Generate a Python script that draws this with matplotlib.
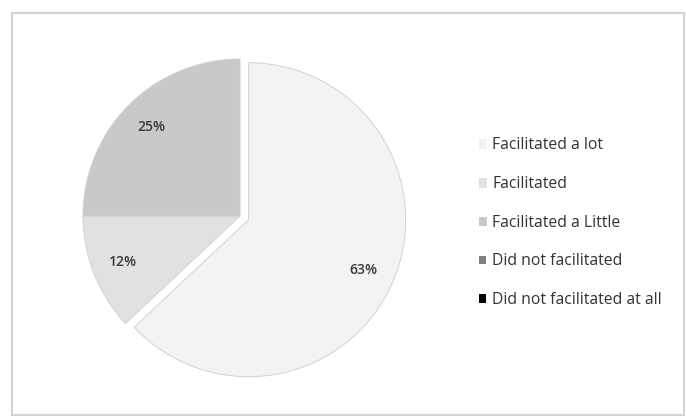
import matplotlib
matplotlib.use("Agg")
import matplotlib.pyplot as plt
from matplotlib.patches import Rectangle

# Response shares per category
categories = ["Facilitated a lot", "Facilitated", "Facilitated a Little",
              "Did not facilitated", "Did not facilitated at all"]
shares = [63, 12, 25, 0, 0]
colors = ["#f3f3f3", "#e1e1e1", "#c9c9c9", "#808080", "#000000"]
explode = [0.06, 0, 0, 0, 0]

plt.rcParams["font.family"] = ["Open Sans", "DejaVu Sans"]

W, H = 686, 416
fig = plt.figure(figsize=(W / 100, H / 100), dpi=100)
fig.patch.set_facecolor("white")

# chart area border
fig.patches.append(Rectangle((12 / W, 1 / H), 672 / W, (H - 14) / H,
                             transform=fig.transFigure, fill=False,
                             edgecolor="#d4d4d4", linewidth=1.6))

# pie centred at (240, 216) px with a 157 px radius
half = 170
ax = fig.add_axes([(240 - half) / W, (H - 216 - half) / H, 2 * half / W, 2 * half / H])


def pct(v):
    return f"{v:.0f}%" if v > 0.5 else ""


wedges, texts, autotexts = ax.pie(
    shares, colors=colors, explode=explode, startangle=90, counterclock=False,
    autopct=pct, pctdistance=0.8,
    wedgeprops=dict(edgecolor="#d2d2d2", linewidth=0.7),
    textprops=dict(fontsize=10, color="#3a3a3a", fontweight="semibold"))
ax.set_xlim(-half / 157, half / 157)
ax.set_ylim(-half / 157, half / 157)
ax.set_aspect("equal")

for w, v in zip(wedges, shares):
    if v == 0:
        w.set_linewidth(0)

leg = fig.legend(wedges, categories, loc="upper left",
                 bbox_to_anchor=(465 / W, (H - 123) / H), frameon=False,
                 fontsize=11.3, handlelength=0.45, handleheight=0.45,
                 handletextpad=0.4, labelspacing=1.45, labelcolor="#333333")
for h, c in zip(leg.legend_handles, colors):
    h.set_edgecolor(c)
    h.set_facecolor(c)

fig.savefig("out.png", dpi=100, facecolor="white")
